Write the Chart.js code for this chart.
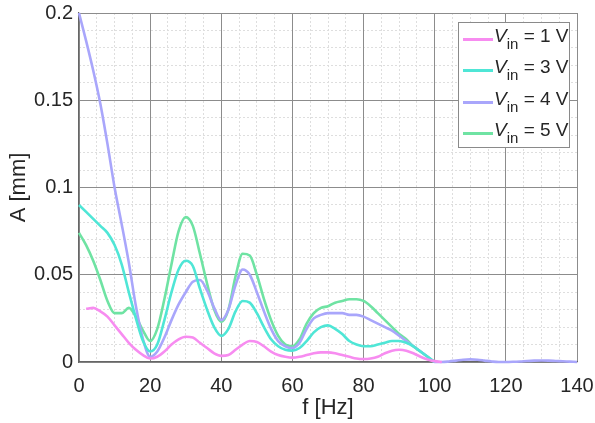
<!DOCTYPE html>
<html>
<head>
<meta charset="utf-8">
<script src="https://cdn.jsdelivr.net/npm/chart.js@4/dist/chart.umd.min.js"></script>
<style>
  body { margin: 0; background: #fff; }
  #wrap { position: relative; width: 595px; height: 423px; }
  #legend {
    position: absolute; left: 458px; top: 22px; width: 110px; height: 124px;
    background: #fff; border: 1px solid #8a8a8a;
    font-family: 'Liberation Sans', Arial, sans-serif; font-size: 19px; color: #262626;
  }
  #legend .row { position: absolute; left: 0; height: 31px; line-height: 31px; white-space: nowrap; }
  #legend .swatch { position: absolute; left: 4px; top: 14px; width: 30px; height: 3px; }
  #legend .txt { position: absolute; left: 35px; top: -4px; }
  #legend sub { font-size: 15px; vertical-align: -7px; line-height: 0; }
</style>
</head>
<body>
<div id="wrap">
  <canvas id="chart" width="595" height="423"></canvas>
  <div id="legend"></div>
</div>
<script>
// frequency grid, Hz
const freq = [
  0, 2, 4, 6, 8, 10, 12, 14, 16, 18, 20, 22, 24, 26, 28, 30, 32, 34, 36, 38,
  40, 42, 44, 46, 48, 50, 52, 54, 56, 58, 60, 62, 64, 66, 68, 70, 72, 74, 76, 78,
  80, 82, 84, 86, 88, 90, 92, 94, 96, 98, 100, 102, 104, 106, 108, 110, 112, 114, 116, 118,
  120, 122, 124, 126, 128, 130, 132, 134, 136, 138, 140
];

// amplitude, mm
const vin1 = [
  null, 0.0305, 0.031, 0.029, 0.026, 0.021, 0.016, 0.011, 0.007, 0.004, 0.002, 0.003, 0.006, 0.010, 0.013, 0.0145, 0.014, 0.011, 0.008, 0.005,
  0.0035, 0.004, 0.007, 0.010, 0.012, 0.0115, 0.009, 0.006, 0.004, 0.003, 0.0025, 0.003, 0.004, 0.005, 0.0055, 0.0055, 0.005, 0.004, 0.003, 0.002,
  0.0017, 0.002, 0.003, 0.005, 0.0065, 0.007, 0.0065, 0.005, 0.003, 0.0015, 0.0005, 0
];
const vin3 = [
  0.090, 0.086, 0.082, 0.078, 0.074, 0.067, 0.056, 0.040, 0.025, 0.012, 0.006, 0.010, 0.024, 0.040, 0.053, 0.058, 0.055, 0.042, 0.030, 0.020,
  0.015, 0.019, 0.029, 0.035, 0.034, 0.028, 0.020, 0.013, 0.009, 0.007, 0.0065, 0.008, 0.012, 0.017, 0.020, 0.021, 0.019, 0.016, 0.012, 0.010,
  0.009, 0.009, 0.010, 0.011, 0.012, 0.012, 0.011, 0.009, 0.006, 0.003, 0
];
const vin4 = [
  0.200, 0.184, 0.167, 0.148, 0.125, 0.100, 0.079, 0.057, 0.032, 0.013, 0.003, 0.006, 0.014, 0.024, 0.033, 0.040, 0.046, 0.047, 0.041, 0.031,
  0.024, 0.030, 0.044, 0.053, 0.050, 0.040, 0.029, 0.019, 0.012, 0.009, 0.008, 0.011, 0.019, 0.025, 0.027, 0.028, 0.028, 0.028, 0.027, 0.027,
  0.026, 0.024, 0.022, 0.020, 0.018, 0.015, 0.012, 0.009, 0.006, 0.003, 0, 0, 0.0003, 0.0008, 0.0013, 0.0015, 0.0013, 0.0008, 0.0003, 0,
  0, 0.0001, 0.0003, 0.0006, 0.0008, 0.0009, 0.0008, 0.0006, 0.0004, 0.0002, 0
];
const vin5 = [
  0.074, 0.067, 0.058, 0.047, 0.035, 0.028, 0.028, 0.031, 0.026, 0.018, 0.012, 0.019, 0.036, 0.056, 0.075, 0.083, 0.078, 0.062, 0.045, 0.030,
  0.023, 0.030, 0.049, 0.062, 0.061, 0.050, 0.036, 0.024, 0.015, 0.010, 0.009, 0.013, 0.022, 0.028, 0.031, 0.032, 0.034, 0.035, 0.036, 0.036,
  0.035, 0.032, 0.028, 0.024, 0.020, 0.016, 0.013, 0.009, 0.006, 0.003, 0
];

const seriesVolts = ['1', '3', '4', '5'];
const seriesColors = ['#f78cf0', '#4fe6d6', '#a9a6fb', '#6fe3a3'];
const xTicks = [0, 20, 40, 60, 80, 100, 120, 140];
const yTicks = [0, 0.05, 0.1, 0.15, 0.2];

const toPoints = vals => vals.map((v, i) => ({ x: freq[i], y: v }));
const allSeries = [vin1, vin3, vin4, vin5];

const FONT = "'Liberation Sans', Arial, sans-serif";
const TEXT = '#262626';

new Chart(document.getElementById('chart'), {
  type: 'line',
  data: {
    datasets: allSeries.map((vals, i) => ({
      label: `Vin = ${seriesVolts[i]} V`,
      data: toPoints(vals),
      borderColor: seriesColors[i],
      borderWidth: 2.6,
      pointRadius: 0,
      cubicInterpolationMode: 'monotone',
      clip: false
    }))
  },
  options: {
    responsive: false,
    animation: false,
    layout: { padding: { left: 0, right: 18, top: 13, bottom: 0 } },
    plugins: { legend: { display: false }, tooltip: { enabled: false } },
    scales: {
      // minor grids first so major lines sit on top
      xMinor: {
        type: 'linear', position: 'bottom', min: 0, max: 140,
        ticks: { display: false, stepSize: 5 },
        grid: { color: '#dedede', lineWidth: 1, drawTicks: false },
        border: { display: false, dash: [2, 2] },
        afterFit: s => { s.height = 0; }
      },
      yMinor: {
        type: 'linear', position: 'left', min: 0, max: 0.2,
        ticks: { display: false, stepSize: 0.01 },
        grid: { color: '#dedede', lineWidth: 1, drawTicks: false },
        border: { display: false, dash: [2, 2] },
        afterFit: s => { s.width = 0; }
      },
      x: {
        type: 'linear', min: 0, max: 140,
        afterBuildTicks: s => { s.ticks = xTicks.map(v => ({ value: v })); },
        afterFit: s => { s.height = 61; s.paddingLeft = 0; s.paddingRight = 0; },
        ticks: { color: TEXT, font: { family: FONT, size: 20 }, padding: 12, maxRotation: 0 },
        grid: { color: '#8c8c8c', lineWidth: 1, drawTicks: false },
        border: { color: '#666', width: 1.2 },
        title: { display: true, text: 'f [Hz]', color: TEXT, font: { family: FONT, size: 22 }, padding: { top: 0, bottom: 2 } }
      },
      y: {
        type: 'linear', min: 0, max: 0.2,
        afterBuildTicks: s => { s.ticks = yTicks.map(v => ({ value: v })); },
        afterFit: s => { s.width = 79; s.paddingTop = 0; s.paddingBottom = 0; },
        ticks: { color: TEXT, font: { family: FONT, size: 20 }, padding: 6, callback: v => String(+v.toFixed(2)) },
        grid: { color: '#8c8c8c', lineWidth: 1, drawTicks: false },
        border: { color: '#666', width: 1.2 },
        title: { display: true, text: 'A [mm]', color: TEXT, font: { family: FONT, size: 22 }, padding: { top: 6, bottom: 0 } }
      }
    }
  }
});

// legend with subscripts, as html text
const legend = document.getElementById('legend');
seriesVolts.forEach((v, i) => {
  const row = document.createElement('div');
  row.className = 'row';
  row.style.top = (i * 31.3 + 1) + 'px';
  row.innerHTML = `<span class="swatch" style="background:${seriesColors[i]}"></span>` +
    `<span class="txt"><i>V</i><sub>in</sub> = ${v} V</span>`;
  legend.appendChild(row);
});
</script>
</body>
</html>
